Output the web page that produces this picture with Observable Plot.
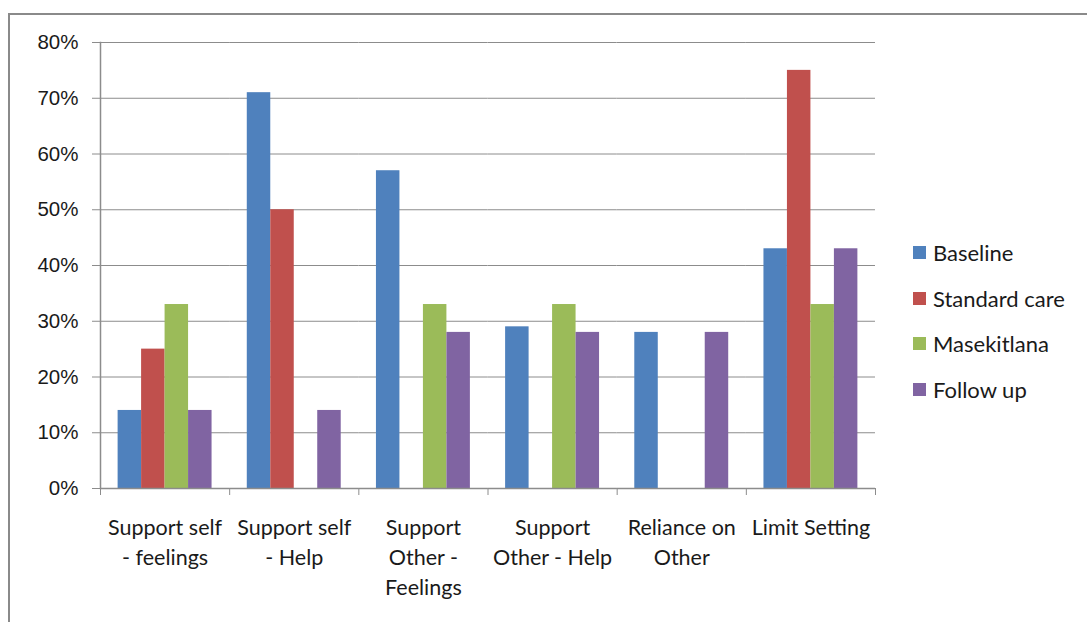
<!DOCTYPE html>
<html>
<head>
<meta charset="utf-8">
<script src="https://cdn.jsdelivr.net/npm/d3@7"></script>
<script src="https://cdn.jsdelivr.net/npm/@observablehq/plot@0.6"></script>
<style>
  html, body { margin: 0; padding: 0; background: #fff; }
  #wrap { position: relative; width: 1087px; height: 622px; overflow: hidden; font-family: Lato, "Open Sans", sans-serif; }
  #frame { position: absolute; left: 8px; top: 13px; width: 1100px; height: 640px; border-top: 2px solid #8a8a8a; border-left: 2px solid #8a8a8a; box-sizing: border-box; }
  #chart { position: absolute; left: 0; top: 0; }
  #legend { position: absolute; left: 913px; top: 230px; font-size: 22px; color: #1a1a1a; }
  #legend .item { display: flex; align-items: center; height: 45.5px; }
  #legend .sw { width: 13px; height: 13px; margin-right: 7px; }
</style>
</head>
<body>
<div id="wrap">
  <div id="frame"></div>
  <div id="chart"></div>
  <div id="legend"></div>
</div>
<script>
const categories = ["Support self\n- feelings", "Support self\n- Help", "Support\nOther -\nFeelings", "Support\nOther - Help", "Reliance on\nOther", "Limit Setting"];
const series = ["Baseline", "Standard care", "Masekitlana", "Follow up"];
const colors = ["#4F81BD", "#C0504D", "#9BBB59", "#8064A2"];
const baseline     = [0.14, 0.71, 0.57, 0.29, 0.28, 0.43];
const standardCare = [0.25, 0.50, 0.00, 0.00, 0.00, 0.75];
const masekitlana  = [0.33, 0.00, 0.33, 0.33, 0.00, 0.33];
const followUp     = [0.14, 0.14, 0.28, 0.28, 0.28, 0.43];
const yTicks = [0, 0.1, 0.2, 0.3, 0.4, 0.5, 0.6, 0.7, 0.8];

const seriesValues = [baseline, standardCare, masekitlana, followUp];
const data = [];
categories.forEach((c, i) => series.forEach((s, j) => {
  const v = seriesValues[j][i];
  if (v > 0) data.push({category: c, series: s, value: v});
}));

const gridColor = "#8c8c8c";

const boundaryTicks = (index, scales, values, dimensions) => {
  const x = scales.x;
  const step = x(categories[1]) - x(categories[0]);
  const y0 = dimensions.height - dimensions.marginBottom;
  const xs = categories.map(c => x(c)).concat([x(categories[categories.length - 1]) + step]);
  const g = d3.create("svg:g").attr("stroke", gridColor).attr("stroke-width", 1);
  g.selectAll("line").data(xs).join("line")
    .attr("x1", d => d + 0.5).attr("x2", d => d + 0.5)
    .attr("y1", y0).attr("y2", y0 + 7);
  return g.node();
};

const chart = Plot.plot({
  width: 1087,
  height: 622,
  marginLeft: 100,
  marginRight: 212,
  marginTop: 42,
  marginBottom: 134,
  style: {fontFamily: "Lato, 'Open Sans', sans-serif", background: "transparent", color: "#1a1a1a"},
  fx: {domain: categories, padding: 0, round: false, label: null},
  x: {domain: series, paddingInner: 0, paddingOuter: 0.75, round: false, axis: null},
  y: {domain: [0, 0.8], label: null},
  color: {domain: series, range: colors},
  marks: [
    Plot.gridY(yTicks, {stroke: gridColor, strokeOpacity: 1, strokeWidth: 1}),
    Plot.axisY(yTicks, {tickFormat: d3.format(".0%"), tickSize: 8, tickPadding: 14, fontSize: 20.5, fontFamily: "'Liberation Sans', Arial, sans-serif", stroke: gridColor, strokeOpacity: 1, anchor: "left"}),
    Plot.barY(data, {fx: "category", x: "series", y: "value", fill: "series"}),
    Plot.ruleY([0], {stroke: gridColor, strokeWidth: 1.5}),
    Plot.axisFx({tickSize: 0, tickPadding: 25, fontSize: 21.5, lineHeight: 1.4, label: null, anchor: "bottom"})
  ]
});
document.getElementById("chart").appendChild(chart);

// overlay: y axis line and category boundary ticks using a non-faceted band scale
const overlay = Plot.plot({
  width: 1087,
  height: 622,
  marginLeft: 100,
  marginRight: 212,
  marginTop: 42,
  marginBottom: 134,
  style: {background: "transparent"},
  x: {type: "band", domain: categories, padding: 0, round: false, axis: null},
  y: {domain: [0, 0.8], axis: null},
  marks: [
    Plot.frame({anchor: "left", stroke: gridColor, strokeWidth: 1.5}),
    boundaryTicks
  ]
});
overlay.style.position = "absolute";
overlay.style.left = "0px";
overlay.style.top = "0px";
document.getElementById("chart").appendChild(overlay);

const legend = d3.select("#legend");
series.forEach((s, i) => {
  const item = legend.append("div").attr("class", "item");
  item.append("div").attr("class", "sw").style("background", colors[i]);
  item.append("span").text(s);
});
</script>
</body>
</html>
